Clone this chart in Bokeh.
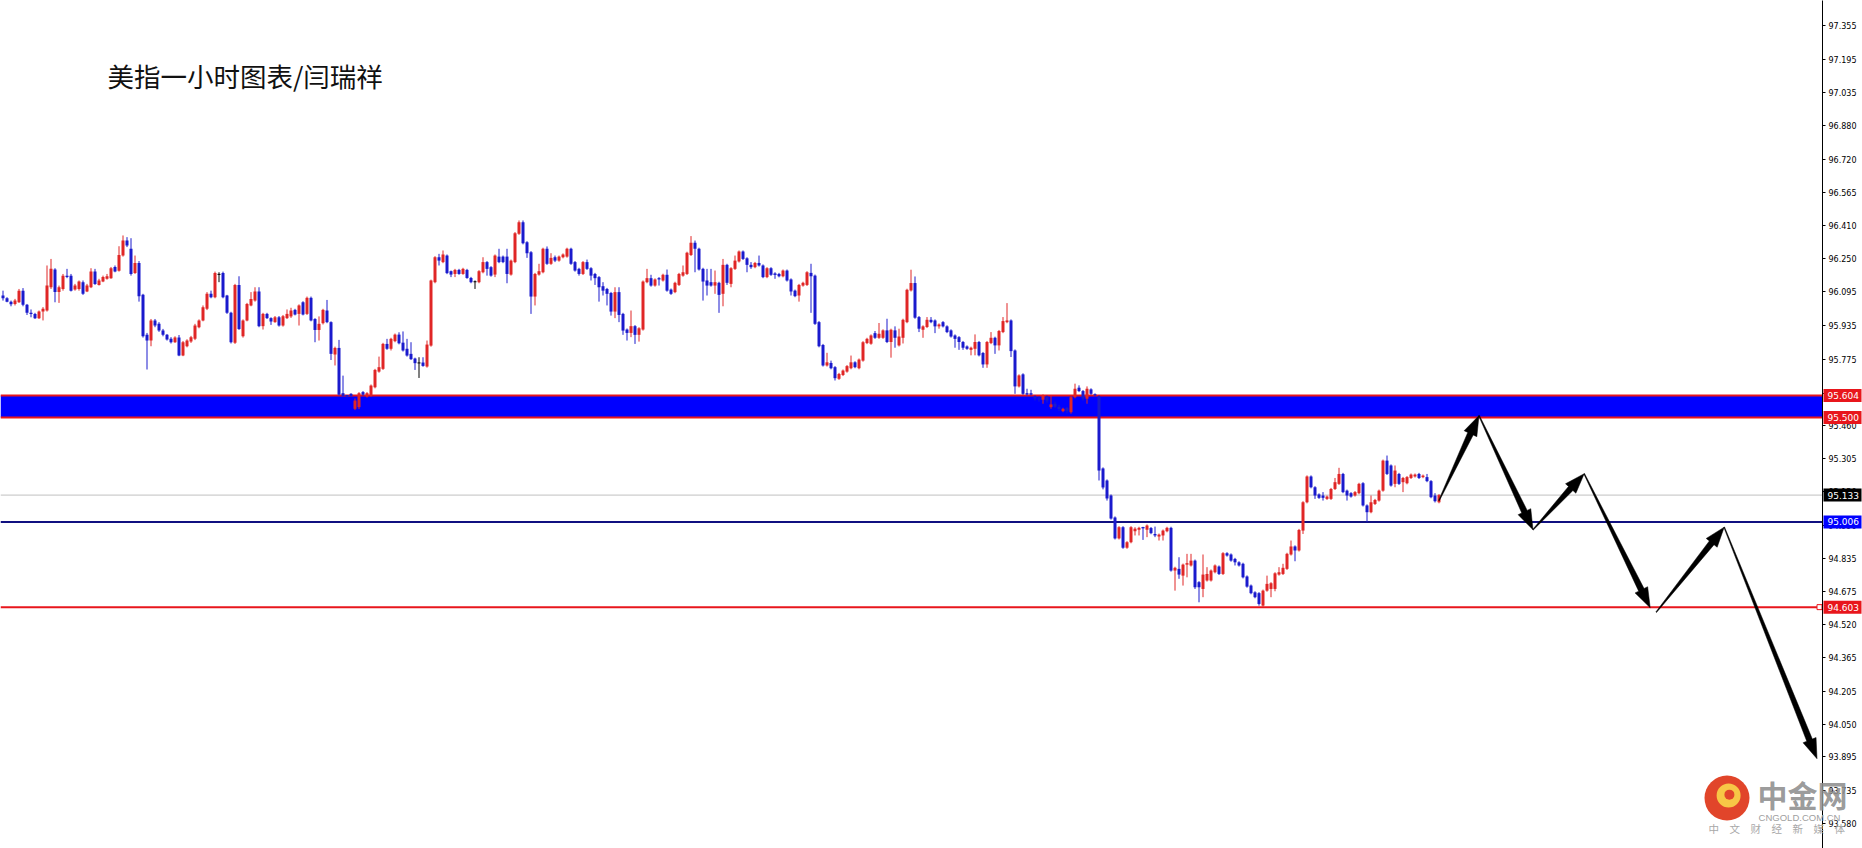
import math
import numpy as np
from bokeh.plotting import figure
from bokeh.models import (ColumnDataSource, LinearAxis, FixedTicker, PrintfTickFormatter,
                          Span, BoxAnnotation, Range1d)
from bokeh.core.properties import value
from bokeh.embed import file_html
from bokeh.resources import INLINE

# ---------------- data (US Dollar Index, 1-hour candles) ----------------
opens = [
    96.077, 96.064, 96.048, 96.037, 96.045, 96.100, 96.033, 95.995, 95.990, 95.970, 96.001, 96.006,
    96.116, 96.200, 96.093, 96.108, 96.171, 96.171, 96.105, 96.108, 96.140, 96.096, 96.116, 96.190,
    96.127, 96.143, 96.156, 96.159, 96.212, 96.194, 96.266, 96.337, 96.298, 96.184, 96.231, 96.080,
    95.891, 95.864, 95.959, 95.943, 95.911, 95.891, 95.872, 95.856, 95.878, 95.793, 95.837, 95.859,
    95.872, 95.927, 95.959, 96.014, 96.085, 96.069, 96.177, 96.184, 96.077, 95.995, 95.853, 96.127,
    95.884, 95.959, 96.030, 96.053, 96.096, 95.932, 95.990, 95.970, 95.951, 95.974, 95.935, 95.970,
    95.978, 96.009, 95.990, 96.045, 95.990, 96.066, 95.966, 95.914, 95.946, 96.006, 95.951, 95.798,
    95.829, 95.615, 95.604, 95.612, 95.541, 95.549, 95.620, 95.599, 95.604, 95.643, 95.717, 95.730,
    95.848, 95.825, 95.861, 95.892, 95.854, 95.825, 95.801, 95.779, 95.758, 95.760, 95.741, 95.840,
    96.140, 96.258, 96.235, 96.266, 96.192, 96.179, 96.198, 96.179, 96.198, 96.160, 96.142, 96.140,
    96.187, 96.235, 96.211, 96.176, 96.261, 96.261, 96.261, 96.176, 96.235, 96.369, 96.424, 96.329,
    96.282, 96.072, 96.176, 96.187, 96.298, 96.227, 96.258, 96.242, 96.258, 96.261, 96.298, 96.235,
    96.203, 96.179, 96.235, 96.206, 96.179, 96.164, 96.121, 96.108, 96.089, 96.001, 96.093, 95.990,
    95.916, 95.900, 95.932, 95.891, 95.916, 96.140, 96.159, 96.124, 96.159, 96.148, 96.175, 96.105,
    96.093, 96.127, 96.171, 96.179, 96.269, 96.326, 96.298, 96.203, 96.148, 96.140, 96.124, 96.137,
    96.085, 96.222, 96.132, 96.203, 96.238, 96.285, 96.253, 96.222, 96.211, 96.231, 96.219, 96.164,
    96.206, 96.179, 96.179, 96.168, 96.195, 96.153, 96.100, 96.077, 96.124, 96.127, 96.184, 96.171,
    95.951, 95.843, 95.746, 95.758, 95.738, 95.683, 95.701, 95.717, 95.733, 95.761, 95.733, 95.769,
    95.852, 95.849, 95.899, 95.877, 95.877, 95.912, 95.857, 95.912, 95.841, 95.877, 95.951, 96.101,
    96.136, 95.975, 95.915, 95.928, 95.962, 95.959, 95.931, 95.951, 95.931, 95.912, 95.888, 95.880,
    95.857, 95.836, 95.820, 95.825, 95.857, 95.805, 95.751, 95.852, 95.877, 95.841, 95.904, 95.951,
    95.959, 95.817, 95.647, 95.704, 95.615, 95.612, 95.600, 95.590, 95.584, 95.600, 95.549, 95.565,
    95.550, 95.530, 95.545, 95.525, 95.596, 95.641, 95.625, 95.589, 95.633, 95.610, 95.600, 95.259,
    95.202, 95.131, 95.027, 94.928, 94.981, 94.884, 94.910, 94.962, 94.969, 94.979, 94.969, 94.977,
    94.949, 94.937, 94.942, 94.962, 94.978, 94.776, 94.784, 94.752, 94.804, 94.800, 94.823, 94.721,
    94.689, 94.729, 94.729, 94.768, 94.795, 94.760, 94.858, 94.852, 94.831, 94.815, 94.808, 94.748,
    94.705, 94.673, 94.669, 94.610, 94.681, 94.689, 94.689, 94.757, 94.760, 94.784, 94.852, 94.890,
    94.871, 94.965, 95.099, 95.221, 95.170, 95.136, 95.131, 95.115, 95.115, 95.162, 95.186, 95.233,
    95.154, 95.142, 95.131, 95.142, 95.189, 95.084, 95.052, 95.091, 95.107, 95.154, 95.296, 95.273,
    95.186, 95.233, 95.194, 95.189, 95.214, 95.221, 95.233, 95.218, 95.218, 95.199, 95.131, 95.099,
]
highs = [
    96.100, 96.069, 96.053, 96.061, 96.108, 96.112, 96.037, 96.011, 95.995, 96.006, 96.022, 96.219,
    96.250, 96.206, 96.124, 96.179, 96.203, 96.179, 96.132, 96.148, 96.148, 96.132, 96.206, 96.203,
    96.156, 96.171, 96.179, 96.212, 96.219, 96.310, 96.361, 96.353, 96.348, 96.266, 96.240, 96.085,
    95.900, 95.966, 95.966, 95.951, 95.919, 95.895, 95.880, 95.884, 95.890, 95.862, 95.870, 95.886,
    95.943, 95.964, 96.030, 96.093, 96.100, 96.190, 96.187, 96.190, 96.080, 96.000, 96.132, 96.168,
    95.964, 96.042, 96.093, 96.116, 96.116, 95.995, 95.995, 95.974, 95.980, 95.980, 95.985, 96.011,
    96.019, 96.014, 96.035, 96.050, 96.072, 96.072, 95.970, 95.978, 96.014, 96.056, 95.955, 95.835,
    95.867, 95.698, 95.606, 95.615, 95.590, 95.620, 95.625, 95.620, 95.656, 95.730, 95.788, 95.853,
    95.872, 95.877, 95.897, 95.903, 95.907, 95.872, 95.856, 95.783, 95.785, 95.785, 95.864, 96.152,
    96.263, 96.274, 96.290, 96.271, 96.195, 96.203, 96.203, 96.208, 96.203, 96.165, 96.148, 96.197,
    96.258, 96.240, 96.216, 96.271, 96.298, 96.266, 96.298, 96.247, 96.377, 96.432, 96.432, 96.334,
    96.287, 96.184, 96.227, 96.303, 96.309, 96.277, 96.266, 96.266, 96.276, 96.303, 96.303, 96.240,
    96.208, 96.240, 96.247, 96.211, 96.184, 96.169, 96.140, 96.113, 96.094, 96.116, 96.116, 95.995,
    95.921, 96.006, 95.937, 95.927, 96.148, 96.203, 96.175, 96.158, 96.164, 96.180, 96.200, 96.110,
    96.142, 96.184, 96.219, 96.284, 96.358, 96.337, 96.303, 96.208, 96.203, 96.203, 96.195, 96.142,
    96.250, 96.227, 96.211, 96.266, 96.290, 96.290, 96.258, 96.235, 96.236, 96.266, 96.224, 96.211,
    96.211, 96.187, 96.184, 96.200, 96.200, 96.158, 96.105, 96.132, 96.142, 96.192, 96.227, 96.176,
    95.956, 95.848, 95.806, 95.769, 95.743, 95.711, 95.727, 95.748, 95.793, 95.766, 95.779, 95.861,
    95.877, 95.893, 95.909, 95.947, 95.917, 95.967, 95.920, 95.931, 95.920, 95.967, 96.109, 96.199,
    96.167, 95.980, 95.936, 95.975, 95.975, 95.964, 95.945, 95.956, 95.936, 95.917, 95.893, 95.885,
    95.862, 95.841, 95.835, 95.893, 95.862, 95.810, 95.862, 95.904, 95.882, 95.914, 95.975, 96.041,
    95.964, 95.822, 95.704, 95.709, 95.636, 95.631, 95.605, 95.600, 95.609, 95.604, 95.604, 95.575,
    95.560, 95.546, 95.550, 95.601, 95.660, 95.652, 95.630, 95.647, 95.638, 95.614, 95.605, 95.264,
    95.207, 95.136, 95.032, 94.986, 94.986, 94.915, 94.986, 94.981, 94.983, 94.983, 94.994, 94.982,
    94.984, 94.951, 94.970, 94.983, 94.983, 94.794, 94.839, 94.809, 94.855, 94.855, 94.828, 94.726,
    94.852, 94.792, 94.781, 94.805, 94.800, 94.863, 94.863, 94.857, 94.836, 94.820, 94.813, 94.753,
    94.710, 94.678, 94.674, 94.686, 94.752, 94.721, 94.768, 94.792, 94.808, 94.860, 94.918, 94.895,
    94.973, 95.104, 95.226, 95.226, 95.175, 95.141, 95.147, 95.131, 95.167, 95.214, 95.262, 95.238,
    95.159, 95.147, 95.152, 95.191, 95.194, 95.089, 95.131, 95.115, 95.159, 95.301, 95.320, 95.278,
    95.273, 95.238, 95.219, 95.223, 95.235, 95.235, 95.238, 95.230, 95.233, 95.204, 95.142, 95.138,
]
lows = [
    96.053, 96.045, 96.026, 96.030, 96.042, 96.026, 95.985, 95.974, 95.966, 95.966, 95.959, 96.001,
    96.108, 96.045, 96.042, 96.100, 96.159, 96.096, 96.100, 96.100, 96.080, 96.093, 96.112, 96.127,
    96.124, 96.140, 96.152, 96.156, 96.187, 96.190, 96.261, 96.306, 96.171, 96.179, 96.048, 95.878,
    95.727, 95.837, 95.927, 95.905, 95.884, 95.864, 95.850, 95.853, 95.790, 95.790, 95.832, 95.853,
    95.866, 95.922, 95.955, 96.008, 96.064, 96.064, 96.140, 96.064, 95.990, 95.850, 95.848, 95.914,
    95.878, 95.955, 96.026, 96.048, 95.927, 95.916, 95.966, 95.938, 95.948, 95.930, 95.930, 95.966,
    95.971, 95.983, 95.935, 95.983, 95.985, 95.955, 95.856, 95.864, 95.940, 95.946, 95.772, 95.746,
    95.604, 95.599, 95.595, 95.598, 95.535, 95.540, 95.602, 95.594, 95.598, 95.638, 95.712, 95.725,
    95.820, 95.817, 95.856, 95.846, 95.812, 95.788, 95.772, 95.725, 95.687, 95.740, 95.736, 95.835,
    96.135, 96.219, 96.230, 96.178, 96.164, 96.164, 96.175, 96.175, 96.156, 96.135, 96.108, 96.135,
    96.182, 96.171, 96.166, 96.164, 96.230, 96.230, 96.135, 96.171, 96.230, 96.364, 96.319, 96.255,
    95.990, 96.030, 96.171, 96.182, 96.222, 96.222, 96.235, 96.237, 96.253, 96.256, 96.222, 96.190,
    96.171, 96.174, 96.198, 96.148, 96.127, 96.048, 96.077, 96.030, 95.982, 95.970, 95.951, 95.891,
    95.864, 95.880, 95.848, 95.859, 95.911, 96.135, 96.119, 96.119, 96.124, 96.143, 96.095, 96.080,
    96.088, 96.122, 96.166, 96.174, 96.264, 96.187, 96.195, 96.053, 96.077, 96.119, 96.085, 95.995,
    96.026, 96.127, 96.116, 96.198, 96.233, 96.245, 96.187, 96.203, 96.206, 96.214, 96.159, 96.159,
    96.170, 96.156, 96.163, 96.163, 96.143, 96.077, 96.069, 96.048, 96.119, 96.122, 95.995, 95.938,
    95.832, 95.741, 95.741, 95.728, 95.675, 95.678, 95.696, 95.712, 95.728, 95.733, 95.728, 95.764,
    95.847, 95.844, 95.872, 95.872, 95.872, 95.852, 95.783, 95.830, 95.836, 95.850, 95.946, 96.096,
    95.967, 95.904, 95.877, 95.923, 95.946, 95.899, 95.920, 95.926, 95.899, 95.878, 95.830, 95.820,
    95.820, 95.820, 95.794, 95.794, 95.789, 95.735, 95.735, 95.847, 95.801, 95.817, 95.899, 95.946,
    95.786, 95.612, 95.642, 95.607, 95.604, 95.604, 95.580, 95.575, 95.565, 95.570, 95.541, 95.545,
    95.530, 95.525, 95.520, 95.518, 95.591, 95.620, 95.580, 95.565, 95.607, 95.600, 95.202, 95.160,
    95.107, 95.017, 94.923, 94.923, 94.879, 94.879, 94.905, 94.942, 94.942, 94.921, 94.934, 94.948,
    94.934, 94.918, 94.918, 94.957, 94.771, 94.681, 94.737, 94.705, 94.744, 94.795, 94.689, 94.626,
    94.650, 94.724, 94.724, 94.763, 94.755, 94.755, 94.842, 94.818, 94.800, 94.795, 94.739, 94.695,
    94.664, 94.645, 94.610, 94.605, 94.676, 94.650, 94.678, 94.752, 94.755, 94.779, 94.847, 94.820,
    94.866, 94.949, 95.094, 95.165, 95.115, 95.115, 95.107, 95.110, 95.110, 95.157, 95.181, 95.142,
    95.107, 95.121, 95.126, 95.137, 95.079, 95.005, 95.047, 95.086, 95.102, 95.149, 95.228, 95.173,
    95.170, 95.181, 95.147, 95.184, 95.209, 95.216, 95.209, 95.213, 95.194, 95.118, 95.098, 95.094,
]
closes = [
    96.064, 96.048, 96.036, 96.053, 96.100, 96.033, 95.995, 95.989, 95.970, 96.001, 96.014, 96.124,
    96.203, 96.093, 96.116, 96.171, 96.164, 96.100, 96.124, 96.143, 96.085, 96.124, 96.190, 96.132,
    96.148, 96.164, 96.168, 96.206, 96.190, 96.269, 96.337, 96.313, 96.179, 96.231, 96.074, 95.884,
    95.864, 95.959, 95.935, 95.911, 95.891, 95.869, 95.856, 95.878, 95.793, 95.856, 95.864, 95.880,
    95.935, 95.959, 96.022, 96.085, 96.069, 96.184, 96.177, 96.069, 95.995, 95.856, 96.127, 95.919,
    95.959, 96.037, 96.061, 96.096, 95.932, 95.990, 95.970, 95.954, 95.974, 95.935, 95.979, 95.990,
    96.006, 95.987, 96.030, 95.987, 96.066, 95.959, 95.914, 95.943, 96.009, 95.951, 95.801, 95.829,
    95.608, 95.602, 95.600, 95.602, 95.580, 95.615, 95.608, 95.615, 95.651, 95.725, 95.738, 95.848,
    95.825, 95.872, 95.892, 95.851, 95.817, 95.793, 95.776, 95.757, 95.758, 95.744, 95.845, 96.148,
    96.258, 96.242, 96.271, 96.183, 96.176, 96.198, 96.179, 96.203, 96.160, 96.140, 96.142, 96.192,
    96.235, 96.203, 96.171, 96.266, 96.235, 96.235, 96.179, 96.242, 96.372, 96.424, 96.324, 96.277,
    96.072, 96.179, 96.192, 96.298, 96.227, 96.255, 96.242, 96.261, 96.271, 96.298, 96.227, 96.195,
    96.179, 96.235, 96.203, 96.171, 96.159, 96.116, 96.100, 96.085, 96.001, 96.093, 95.985, 95.911,
    95.900, 95.932, 95.891, 95.922, 96.143, 96.159, 96.124, 96.153, 96.153, 96.175, 96.100, 96.085,
    96.137, 96.179, 96.187, 96.279, 96.326, 96.298, 96.200, 96.143, 96.124, 96.124, 96.140, 96.080,
    96.222, 96.137, 96.206, 96.242, 96.285, 96.250, 96.222, 96.211, 96.231, 96.219, 96.164, 96.206,
    96.175, 96.175, 96.168, 96.195, 96.148, 96.096, 96.074, 96.127, 96.137, 96.187, 96.168, 95.943,
    95.837, 95.746, 95.761, 95.733, 95.686, 95.706, 95.722, 95.743, 95.761, 95.738, 95.774, 95.856,
    95.872, 95.888, 95.877, 95.896, 95.912, 95.857, 95.915, 95.877, 95.883, 95.962, 96.104, 96.136,
    95.972, 95.920, 95.931, 95.962, 95.951, 95.931, 95.940, 95.931, 95.904, 95.883, 95.872, 95.857,
    95.830, 95.825, 95.830, 95.857, 95.794, 95.751, 95.857, 95.877, 95.841, 95.909, 95.956, 95.959,
    95.814, 95.647, 95.699, 95.612, 95.609, 95.609, 95.590, 95.585, 95.604, 95.580, 95.562, 95.550,
    95.540, 95.541, 95.530, 95.596, 95.636, 95.625, 95.590, 95.636, 95.612, 95.605, 95.249, 95.169,
    95.117, 95.022, 94.928, 94.981, 94.884, 94.910, 94.981, 94.974, 94.978, 94.976, 94.989, 94.953,
    94.942, 94.946, 94.965, 94.978, 94.776, 94.789, 94.757, 94.804, 94.811, 94.823, 94.697, 94.697,
    94.757, 94.760, 94.776, 94.800, 94.760, 94.858, 94.847, 94.823, 94.815, 94.800, 94.744, 94.700,
    94.669, 94.650, 94.618, 94.681, 94.713, 94.716, 94.763, 94.768, 94.789, 94.855, 94.890, 94.871,
    94.968, 95.099, 95.221, 95.170, 95.131, 95.120, 95.120, 95.126, 95.162, 95.194, 95.233, 95.147,
    95.131, 95.126, 95.147, 95.186, 95.084, 95.052, 95.099, 95.110, 95.154, 95.296, 95.233, 95.178,
    95.249, 95.186, 95.214, 95.218, 95.230, 95.230, 95.214, 95.225, 95.199, 95.123, 95.104, 95.133,
]

tick_values = [97.355, 97.195, 97.035, 96.880, 96.720, 96.565, 96.410, 96.250, 96.095, 95.935,
               95.775, 95.615, 95.460, 95.305, 95.150, 94.990, 94.835, 94.675, 94.520, 94.365,
               94.205, 94.050, 93.895, 93.735, 93.580]

band_top = 95.604
band_bottom = 95.500
current_price = 95.133
support_1 = 95.006
support_2 = 94.603

level_prices = [band_top, band_bottom, current_price, support_1, support_2]
level_colors = ["#E8161C", "#E8161C", "#000000", "#0000FF", "#E8161C"]

# forecast path drawn with arrows (bar index, price)
arrow_x0 = [359.0, 369.0, 382.5, 395.3, 413.3, 430.3]
arrow_y0 = [95.107, 95.509, 94.969, 95.234, 94.579, 94.981]
arrow_x1 = [369.0, 382.5, 395.3, 411.8, 430.3, 453.5]
arrow_y1 = [95.509, 94.969, 95.234, 94.600, 94.981, 93.886]

title_text = "美指一小时图表/闫瑞祥"

# ---------------- figure ----------------
FRAME_W, FRAME_H = 1822, 848
BAR_PX = 4.0
X_START = -0.625
X_END = X_START + FRAME_W / BAR_PX
Y_START, Y_END = 93.4613, 97.4724
SX = BAR_PX
SY = FRAME_H / (Y_END - Y_START)
PX_X = 1.0 / SX      # one pixel in bar units
PX_Y = 1.0 / SY      # one pixel in price units

UP = "#E02626"
DOWN = "#1A1ACD"
DOJI = "#000000"

p = figure(frame_width=FRAME_W, frame_height=FRAME_H,
           x_range=Range1d(X_START, X_END), y_range=Range1d(Y_START, Y_END),
           x_axis_location=None, y_axis_location=None,
           toolbar_location=None, output_backend="svg", min_border=0,
           min_border_right=40,
           background_fill_color="white", border_fill_color="white",
           outline_line_color=None)
p.grid.visible = False

yaxis = LinearAxis(ticker=FixedTicker(ticks=tick_values, minor_ticks=[]),
                   formatter=PrintfTickFormatter(format="%.3f"),
                   axis_line_color="black", axis_line_width=1,
                   major_tick_in=0, major_tick_out=3, major_tick_line_color="black",
                   minor_tick_in=0, minor_tick_out=0,
                   major_label_standoff=3,
                   major_label_text_font="DejaVu Sans",
                   major_label_text_font_size="8px",
                   major_label_text_color="black")
p.add_layout(yaxis, "right")

# support / resistance zone and lines (behind candles)
p.add_layout(BoxAnnotation(bottom=band_bottom, top=band_top, fill_color="#0000FF",
                           fill_alpha=1.0, line_color=None, level="underlay"))
p.add_layout(Span(location=band_top, dimension="width", line_color="#E8161C",
                  line_width=2, level="underlay"))
p.add_layout(Span(location=band_bottom, dimension="width", line_color="#E8161C",
                  line_width=2, level="underlay"))
p.add_layout(Span(location=current_price, dimension="width", line_color="#C0C0C0",
                  line_width=1, level="underlay"))
p.add_layout(Span(location=support_1, dimension="width", line_color="#101080",
                  line_width=2, level="underlay"))
p.add_layout(Span(location=support_2, dimension="width", line_color="#E8161C",
                  line_width=2, level="underlay"))

# candles
o = np.array(opens); h = np.array(highs); l = np.array(lows); c = np.array(closes)
idx = np.arange(len(o))
colors = np.where(c > o, UP, np.where(c < o, DOWN, DOJI))
src = ColumnDataSource(dict(x=idx, o=o, h=h, l=l, c=c,
                            top=np.maximum(o, c), bottom=np.minimum(o, c),
                            color=colors))
p.segment(x0="x", y0="l", x1="x", y1="h", line_color="color", line_width=1, source=src)
p.vbar(x="x", width=0.75, top="top", bottom="bottom", fill_color="color",
       line_color=None, source=src)
flat = np.abs(o - c) < 0.0047
fsrc = ColumnDataSource(dict(x0=idx[flat] - 0.375, x1=idx[flat] + 0.375, y=o[flat],
                             color=colors[flat]))
p.segment(x0="x0", y0="y", x1="x1", y1="y", line_color="color", line_width=1, source=fsrc)

# small marker of the 94.603 line at the price scale
p.scatter(x=[X_END - 0.75], y=[support_2], marker="square", size=5,
          fill_color="white", line_color="#E8161C", line_width=1)

# tapered forecast arrows
def arrow_poly(x0, y0, x1, y1, hl=20.0, hw=7.0, w0=0.4, w1=3.0):
    ax, ay = x0 * SX, y0 * SY
    bx, by = x1 * SX, y1 * SY
    dx, dy = bx - ax, by - ay
    L = math.hypot(dx, dy)
    ux, uy = dx / L, dy / L
    nx, ny = -uy, ux
    hx, hy = bx - ux * hl, by - uy * hl
    pts = [(ax + nx * w0, ay + ny * w0), (hx + nx * w1, hy + ny * w1),
           (hx + nx * hw, hy + ny * hw), (bx, by),
           (hx - nx * hw, hy - ny * hw), (hx - nx * w1, hy - ny * w1),
           (ax - nx * w0, ay - ny * w0)]
    return [q[0] / SX for q in pts], [q[1] / SY for q in pts]

axs, ays = [], []
for a, b, cc, d in zip(arrow_x0, arrow_y0, arrow_x1, arrow_y1):
    px_, py_ = arrow_poly(a, b, cc, d)
    axs.append(px_); ays.append(py_)
p.patches(xs=axs, ys=ays, fill_color="black", line_color="black", line_width=0.5)

# price tags on the scale (drawn on the overlay level so they sit over the axis)
tag_src = ColumnDataSource(dict(
    left=[X_END + 1 * PX_X] * len(level_prices),
    right=[X_END + 39 * PX_X] * len(level_prices),
    bottom=[v - 6.5 * PX_Y for v in level_prices],
    top=[v + 6.5 * PX_Y for v in level_prices],
    x=[X_END + 5 * PX_X] * len(level_prices),
    y=level_prices,
    text=[f"{v:.3f}" for v in level_prices],
    color=level_colors))
p.quad(left="left", right="right", bottom="bottom", top="top", fill_color="color",
       line_color=None, source=tag_src, level="overlay")
p.text(x="x", y="y", text="text", text_color="white", text_font=value("DejaVu Sans"),
       text_font_size=value("9px"), text_baseline="middle", text_align="left",
       source=tag_src, level="overlay")

# title
p.text(x=[26.1], y=[97.120], text=[title_text], text_font=value("Noto Sans CJK SC"),
       text_font_size=value("26.5px"), text_color="#111111",
       text_baseline="middle", text_align="left", level="overlay")

# watermark logo
p.scatter(x=[431.0], y=[93.700], marker="circle", size=45, fill_color="#E1452A",
          line_color=None)
p.scatter(x=[431.4], y=[93.712], marker="circle", size=24, fill_color="#F7C746",
          line_color=None)
p.scatter(x=[431.6], y=[93.716], marker="circle", size=10, fill_color="#E1452A",
          line_color=None)
p.text(x=[438.6], y=[93.719], text=["中金网"], text_font=value("Noto Sans CJK SC"),
       text_font_size=value("30px"), text_font_style="bold", text_color="#8E8E8E",
       text_alpha=0.9, text_baseline="middle", text_align="left", level="overlay")
p.text(x=[438.9], y=[93.610], text=["CNGOLD.COM.CN"], text_font=value("Liberation Sans"),
       text_font_size=value("9.5px"), text_color="#A0A0A0",
       text_baseline="middle", text_align="left", level="overlay")
p.text(x=[426.4], y=[93.554], text=["中　文　财　经　新　媒　体"],
       text_font=value("Noto Sans CJK SC"), text_font_size=value("10.5px"),
       text_color="#A8A8A8", text_baseline="middle", text_align="left", level="overlay")

open("out.html", "w").write(file_html(p, INLINE))
